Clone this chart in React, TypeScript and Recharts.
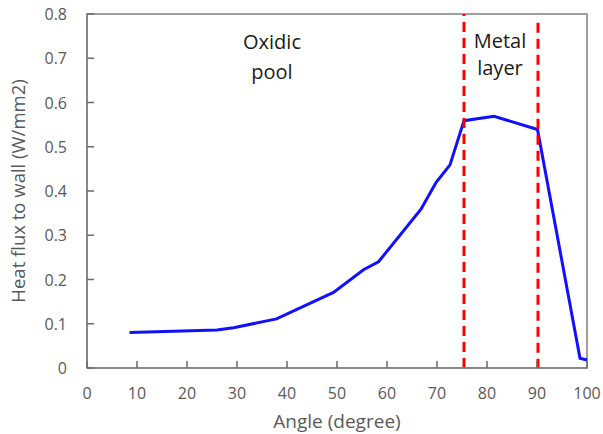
import React from 'react';
import { LineChart, Line, XAxis, YAxis, ReferenceLine, ReferenceDot, ReferenceArea, Label } from 'recharts';

const angles = [8.5, 26, 29.3, 37.9, 49.3, 55.3, 58.3, 66.8, 69.8, 72.6, 75.4, 81.4, 90.1, 98.6, 100];
const heatFlux = [0.080, 0.086, 0.091, 0.111, 0.171, 0.222, 0.240, 0.359, 0.419, 0.459, 0.559, 0.569, 0.539, 0.022, 0.018];
const xTicks = [0, 10, 20, 30, 40, 50, 60, 70, 80, 90, 100];
const yTicks = [0, 0.1, 0.2, 0.3, 0.4, 0.5, 0.6, 0.7, 0.8];
const boundaryOxidic = 75.4;
const boundaryMetal = 90.2;

const data = angles.map((a, i) => ({ angle: a, flux: heatFlux[i] }));

const FONT = '"Open Sans", sans-serif';
const AXIS = '#808080';
const TICKMARK = '#6a6a6a';
const TICK = '#595959';

const XTick = (props: any) => {
  const { x, y, payload } = props;
  const px = Number(x);
  const py = Number(y);
  return (
    <g>
      <path d={`M${px},${py}L${px},${py - 7}`} stroke={TICKMARK} strokeWidth={1.5} fill="none" />
      <text x={px} y={py + 25} textAnchor="middle" dominantBaseline="central" fill={TICK} fontSize={16} fontFamily={FONT}>
        {payload.value}
      </text>
    </g>
  );
};

const YTick = (props: any) => {
  const { x, y, payload } = props;
  const px = Number(x);
  const py = Number(y);
  const v: number = payload.value;
  return (
    <g>
      <path d={`M${px},${py}L${px + 7},${py}`} stroke={TICKMARK} strokeWidth={1.5} fill="none" />
      <text x={px - 20} y={py} textAnchor="end" dominantBaseline="central" fill={TICK} fontSize={16} fontFamily={FONT}>
        {v === 0 ? '0' : v.toFixed(1)}
      </text>
    </g>
  );
};

const TextLabel = (text: string) => (props: any) => {
  const { viewBox } = props;
  const cx = viewBox.x + (viewBox.width || 0) / 2;
  const cy = viewBox.y + (viewBox.height || 0) / 2;
  return (
    <text x={cx} y={cy} textAnchor="middle" dominantBaseline="central" fontFamily={FONT} fontSize={20} fill="#1a1a1a">
      {text}
    </text>
  );
};

export default function App() {
  return (
    <div style={{ width: 603, height: 434, position: 'absolute', left: 0, top: 0, background: '#fff' }}>
      <LineChart width={603} height={434} data={data} margin={{ top: 14, right: 16, bottom: 0, left: 0 }}>
        <ReferenceArea x1={0} x2={100} y1={0} y2={0.8} fill="none" stroke={AXIS} strokeWidth={1.5} />
        <XAxis
          dataKey="angle"
          type="number"
          domain={[0, 100]}
          ticks={xTicks}
          interval={0}
          height={66}
          tickSize={0}
          tickMargin={0}
          tick={XTick}
          tickLine={false}
          axisLine={{ stroke: AXIS, strokeWidth: 1.5 }}
        >
          <Label value="Angle (degree)" position="insideBottom" offset={6} style={{ fill: TICK, fontSize: 19, fontFamily: FONT }} />
        </XAxis>
        <YAxis
          type="number"
          domain={[0, 0.8]}
          ticks={yTicks}
          interval={0}
          width={87}
          tickSize={0}
          tickMargin={0}
          tick={YTick}
          tickLine={false}
          axisLine={{ stroke: AXIS, strokeWidth: 1.5 }}
        >
          <Label value="Heat flux to wall  (W/mm2)" angle={-90} position="insideLeft" offset={18} style={{ fill: TICK, fontSize: 18.5, fontFamily: FONT, textAnchor: 'middle' }} />
        </YAxis>
        <Line type="linear" dataKey="flux" stroke="#1010ff" strokeWidth={3} dot={false} isAnimationActive={false} />
        <ReferenceLine x={boundaryOxidic} stroke="#ff0000" strokeWidth={3} strokeDasharray="10 6" />
        <ReferenceLine segment={[{ x: boundaryMetal, y: 0.78 }, { x: boundaryMetal, y: 0 }]} stroke="#ff0000" strokeWidth={3} strokeDasharray="10 6" />
        <ReferenceDot x={37} y={0.737} r={0} fill="none" stroke="none" label={TextLabel('Oxidic')} />
        <ReferenceDot x={37} y={0.669} r={0} fill="none" stroke="none" label={TextLabel('pool')} />
        <ReferenceDot x={82.6} y={0.741} r={0} fill="none" stroke="none" label={TextLabel('Metal')} />
        <ReferenceDot x={82.6} y={0.678} r={0} fill="none" stroke="none" label={TextLabel('layer')} />
      </LineChart>
    </div>
  );
}
